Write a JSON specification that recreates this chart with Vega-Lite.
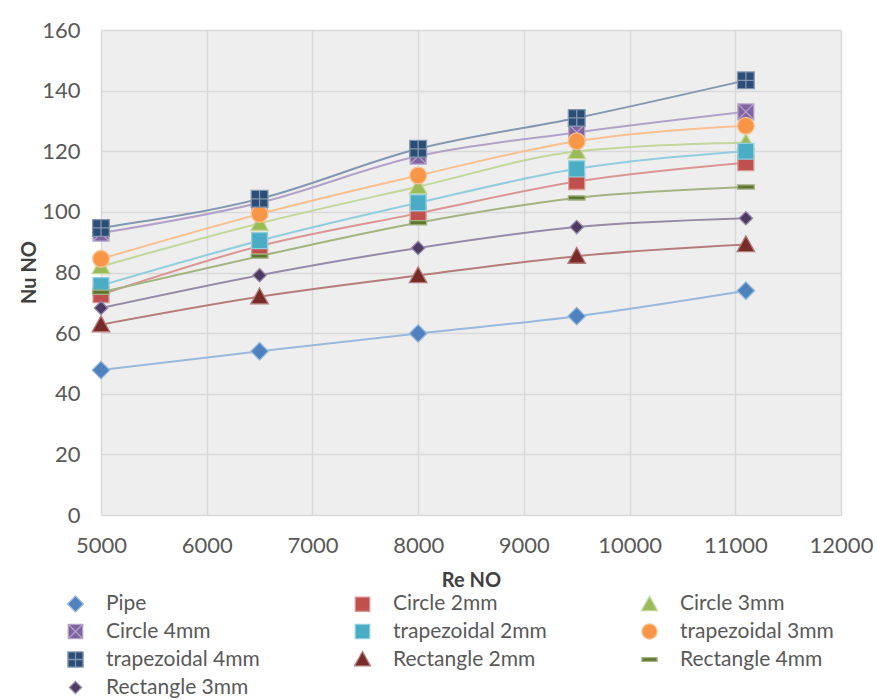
{
  "$schema": "https://vega.github.io/schema/vega-lite/v6.json",
  "width": 740,
  "height": 485,
  "autosize": {"type": "none"},
  "padding": {"left": 101, "top": 30, "right": 36, "bottom": 185},
  "background": "white",
  "config": {
    "view": {"fill": "#EEEEEE", "stroke": null},
    "font": "Lato",
    "axis": {
      "labelFont": "Lato",
      "labelFontSize": 22,
      "labelColor": "#595959",
      "titleFont": "Lato",
      "titleFontSize": 20,
      "titleFontWeight": "bold",
      "titleColor": "#404040",
      "domain": false,
      "ticks": false,
      "gridColor": "#D9D9D9",
      "gridWidth": 1.5,
      "labelFlush": false,
      "labelOverlap": false
    },
    "legend": {
      "labelFont": "Lato",
      "labelFontSize": 21,
      "labelColor": "#595959"
    }
  },
  "data": {
    "values": [
      {"series": "Pipe", "Re": 5000, "Nu": 47.8},
      {"series": "Pipe", "Re": 6500, "Nu": 54},
      {"series": "Pipe", "Re": 8000, "Nu": 59.9},
      {"series": "Pipe", "Re": 9500, "Nu": 65.6},
      {"series": "Pipe", "Re": 11100, "Nu": 74},
      {"series": "Circle 2mm", "Re": 5000, "Nu": 72.7},
      {"series": "Circle 2mm", "Re": 6500, "Nu": 88.7},
      {"series": "Circle 2mm", "Re": 8000, "Nu": 99.5},
      {"series": "Circle 2mm", "Re": 9500, "Nu": 110},
      {"series": "Circle 2mm", "Re": 11100, "Nu": 116.2},
      {"series": "Circle 3mm", "Re": 5000, "Nu": 82},
      {"series": "Circle 3mm", "Re": 6500, "Nu": 96.2},
      {"series": "Circle 3mm", "Re": 8000, "Nu": 108.3},
      {"series": "Circle 3mm", "Re": 9500, "Nu": 119.9},
      {"series": "Circle 3mm", "Re": 11100, "Nu": 122.9},
      {"series": "Circle 4mm", "Re": 5000, "Nu": 93},
      {"series": "Circle 4mm", "Re": 6500, "Nu": 103},
      {"series": "Circle 4mm", "Re": 8000, "Nu": 118.4},
      {"series": "Circle 4mm", "Re": 9500, "Nu": 126.2},
      {"series": "Circle 4mm", "Re": 11100, "Nu": 133},
      {"series": "trapezoidal 2mm", "Re": 5000, "Nu": 75.7},
      {"series": "trapezoidal 2mm", "Re": 6500, "Nu": 90.5},
      {"series": "trapezoidal 2mm", "Re": 8000, "Nu": 103},
      {"series": "trapezoidal 2mm", "Re": 9500, "Nu": 114.2},
      {"series": "trapezoidal 2mm", "Re": 11100, "Nu": 120},
      {"series": "trapezoidal 3mm", "Re": 5000, "Nu": 84.5},
      {"series": "trapezoidal 3mm", "Re": 6500, "Nu": 99.3},
      {"series": "trapezoidal 3mm", "Re": 8000, "Nu": 112},
      {"series": "trapezoidal 3mm", "Re": 9500, "Nu": 123.3},
      {"series": "trapezoidal 3mm", "Re": 11100, "Nu": 128.4},
      {"series": "trapezoidal 4mm", "Re": 5000, "Nu": 94.7},
      {"series": "trapezoidal 4mm", "Re": 6500, "Nu": 104.3},
      {"series": "trapezoidal 4mm", "Re": 8000, "Nu": 120.8},
      {"series": "trapezoidal 4mm", "Re": 9500, "Nu": 131},
      {"series": "trapezoidal 4mm", "Re": 11100, "Nu": 143.4},
      {"series": "Rectangle 2mm", "Re": 5000, "Nu": 62.8},
      {"series": "Rectangle 2mm", "Re": 6500, "Nu": 72},
      {"series": "Rectangle 2mm", "Re": 8000, "Nu": 79},
      {"series": "Rectangle 2mm", "Re": 9500, "Nu": 85.4},
      {"series": "Rectangle 2mm", "Re": 11100, "Nu": 89.2},
      {"series": "Rectangle 4mm", "Re": 5000, "Nu": 73.5},
      {"series": "Rectangle 4mm", "Re": 6500, "Nu": 85.4},
      {"series": "Rectangle 4mm", "Re": 8000, "Nu": 96.4},
      {"series": "Rectangle 4mm", "Re": 9500, "Nu": 104.6},
      {"series": "Rectangle 4mm", "Re": 11100, "Nu": 108.2},
      {"series": "Rectangle 3mm", "Re": 5000, "Nu": 68.3},
      {"series": "Rectangle 3mm", "Re": 6500, "Nu": 79.1},
      {"series": "Rectangle 3mm", "Re": 8000, "Nu": 88.1},
      {"series": "Rectangle 3mm", "Re": 9500, "Nu": 95},
      {"series": "Rectangle 3mm", "Re": 11100, "Nu": 97.9}
    ]
  },
  "encoding": {
    "x": {
      "field": "Re", "type": "quantitative", "title": "Re NO",
      "scale": {"domain": [5000, 12000], "nice": false, "zero": false},
      "axis": {"values": [5000, 6000, 7000, 8000, 9000, 10000, 11000, 12000], "labelPadding": 20, "format": "d", "titleY": 65, "titleBaseline": "middle"}
    },
    "y": {
      "field": "Nu", "type": "quantitative", "title": "Nu NO",
      "scale": {"domain": [0, 160], "nice": false},
      "axis": {"values": [0, 20, 40, 60, 80, 100, 120, 140, 160], "labelPadding": 21, "titleX": -72, "titleY": 242, "titleBaseline": "middle", "titleAngle": 270}
    }
  },
  "layer": [
    {
      "mark": {"type": "line", "interpolate": "monotone", "strokeWidth": 2},
      "encoding": {
        "stroke": {
          "field": "series", "type": "nominal",
          "scale": {
            "domain": ["Pipe", "Circle 2mm", "Circle 3mm", "Circle 4mm", "trapezoidal 2mm", "trapezoidal 3mm", "trapezoidal 4mm", "Rectangle 2mm", "Rectangle 4mm", "Rectangle 3mm"],
            "range": ["#9AB8DB", "#D99694", "#C3D69B", "#B3A2C7", "#93CDDD", "#FAC090", "#8497B0", "#B47C7A", "#A3B381", "#978AA8"]
          }
        },
        "detail": {"field": "series"}
      }
    },
    {
      "mark": {"type": "point", "filled": true, "size": 280, "opacity": 1, "strokeWidth": 1.3},
      "encoding": {
        "fill": {
          "field": "series", "type": "nominal",
          "scale": {
            "domain": ["Pipe", "Circle 2mm", "Circle 3mm", "Circle 4mm", "trapezoidal 2mm", "trapezoidal 3mm", "trapezoidal 4mm", "Rectangle 2mm", "Rectangle 4mm", "Rectangle 3mm"],
            "range": ["#4F81BD", "#C0504D", "#9BBB59", "#8064A2", "#4BACC6", "#F79646", "#2C4D75", "#772C2A", "#5F7530", "#4D3B62"]
          },
          "legend": {
            "title": null,
            "orient": "none",
            "legendX": -36,
            "legendY": 563,
            "direction": "horizontal",
            "columns": 3,
            "gridAlign": "all",
            "columnPadding": 91,
            "rowPadding": 5,
            "symbolSize": 230,
            "symbolStrokeWidth": 1.3,
            "labelOffset": 20,
            "labelLimit": 300
          }
        },
        "stroke": {"field": "series", "type": "nominal"},
        "shape": {
          "field": "series", "type": "nominal",
          "scale": {
            "domain": ["Pipe", "Circle 2mm", "Circle 3mm", "Circle 4mm", "trapezoidal 2mm", "trapezoidal 3mm", "trapezoidal 4mm", "Rectangle 2mm", "Rectangle 4mm", "Rectangle 3mm"],
            "range": [
              "M-1.05,0L0,-1.05L1.05,0L0,1.05Z",
              "M-0.95,-0.95H0.95V0.95H-0.95Z",
              "M0,-1.05L1.05,0.85H-1.05Z",
              "M-0.95,-0.95H0.95V0.95H-0.95ZM-0.95,-0.95L0.95,0.95M-0.95,0.95L0.95,-0.95",
              "M-0.95,-0.95H0.95V0.95H-0.95Z",
              "circle",
              "M-1,-1H1V1H-1ZM0,-1V1M-1,0H1",
              "M0,-1.05L1.05,0.85H-1.05Z",
              "M-1,-0.25H1V0.25H-1Z",
              "M-0.8,0L0,-0.8L0.8,0L0,0.8Z"
            ]
          }
        }
      }
    }
  ]
}
